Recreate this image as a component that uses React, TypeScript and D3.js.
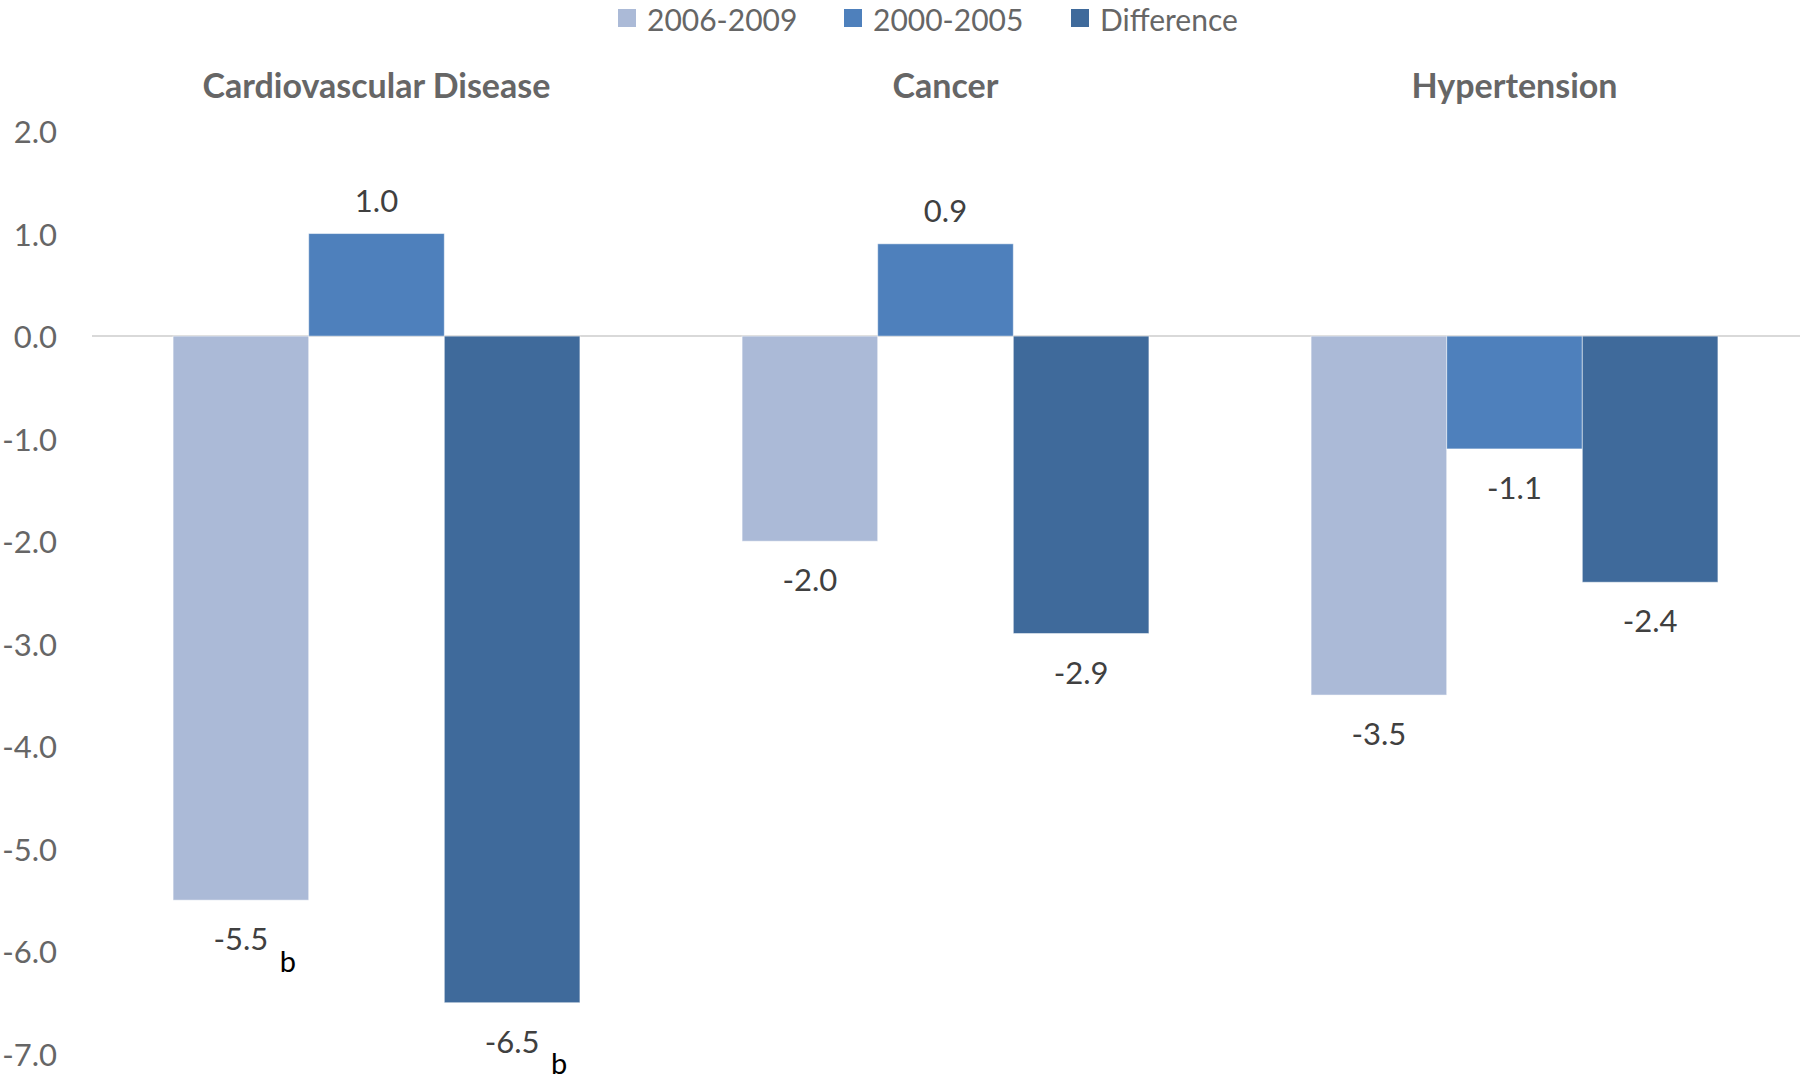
import React from "react";
import * as d3 from "d3";

const categories = ["Cardiovascular Disease", "Cancer", "Hypertension"];
const seriesNames = ["2006-2009", "2000-2005", "Difference"];
const values2006_2009 = [-5.5, -2.0, -3.5];
const values2000_2005 = [1.0, 0.9, -1.1];
const valuesDifference = [-6.5, -2.9, -2.4];
const footnotes = [
  ["b", "", "b"],
  ["", "", ""],
  ["", "", ""],
];
const yTicks = [2, 1, 0, -1, -2, -3, -4, -5, -6, -7];
const colors = ["#ABBAD7", "#4E80BC", "#3F6A9B"];

const W = 1800;
const H = 1076;
const FONT = "Lato, 'Open Sans', sans-serif";

export default function App() {
  const seriesValues = [values2006_2009, values2000_2005, valuesDifference];
  const x0 = d3.scaleBand<string>().domain(categories).range([92, 1799]).paddingInner(0).paddingOuter(0);
  const bw = x0.bandwidth();
  const gap = bw * 0.285;
  const x1 = d3.scaleBand<string>().domain(seriesNames).range([gap / 2, bw - gap / 2]).padding(0);
  const y = d3.scaleLinear().domain([-7, 2]).range([1054, 131]);
  const locale = d3.formatLocale({ decimal: ".", thousands: ",", grouping: [3], currency: ["", ""], minus: "-" });
  const fmt = locale.format(".1f");
  const legendX = [618, 844, 1071];

  return (
    <svg width={W} height={H} style={{ position: "absolute", left: 0, top: 0, background: "#fff" }} fontFamily={FONT}>
      {/* legend */}
      {seriesNames.map((s, i) => (
        <g key={s}>
          <rect x={legendX[i]} y={9} width={18} height={18} fill={colors[i]} />
          <text x={legendX[i] + 29} y={19} dominantBaseline="central" fontSize={30} fill="#666">
            {s}
          </text>
        </g>
      ))}
      {/* y tick labels */}
      {yTicks.map((t) => (
        <text key={t} x={57} y={y(t)} textAnchor="end" dominantBaseline="central" fontSize={31} fill="#666">
          {fmt(t)}
        </text>
      ))}
      {/* category titles */}
      {categories.map((c) => (
        <text key={c} x={(x0(c) as number) + bw / 2} y={84} textAnchor="middle" dominantBaseline="central" fontSize={34} fontWeight="bold" fill="#666">
          {c}
        </text>
      ))}
      {/* zero line */}
      <line x1={92} x2={1800} y1={y(0)} y2={y(0)} stroke="#D9D9D9" strokeWidth={2} />
      {/* bars */}
      {categories.map((c, ci) => (
        <g key={c} transform={`translate(${x0(c)},0)`}>
          {seriesNames.map((s, si) => {
            const v = seriesValues[si][ci];
            const bx = x1(s) as number;
            const top = Math.min(y(v), y(0));
            const h = Math.abs(y(v) - y(0));
            return (
              <rect key={s} x={bx} y={top} width={x1.bandwidth()} height={h} fill={colors[si]} stroke="#fff" strokeOpacity={0.5} strokeWidth={1} />
            );
          })}
          {seriesNames.map((s, si) => {
            const v = seriesValues[si][ci];
            const cx = (x1(s) as number) + x1.bandwidth() / 2;
            const ly = v >= 0 ? y(v) - 34 : y(v) + 38;
            const note = footnotes[ci][si];
            return (
              <g key={s + "l"}>
                <text x={cx} y={ly} textAnchor="middle" dominantBaseline="central" fontSize={31} fill="#404040">
                  {fmt(v)}
                </text>
                {note && (
                  <text x={cx + 47} y={ly + 22} textAnchor="middle" dominantBaseline="central" fontSize={29} fill="#000">
                    {note}
                  </text>
                )}
              </g>
            );
          })}
        </g>
      ))}
    </svg>
  );
}
